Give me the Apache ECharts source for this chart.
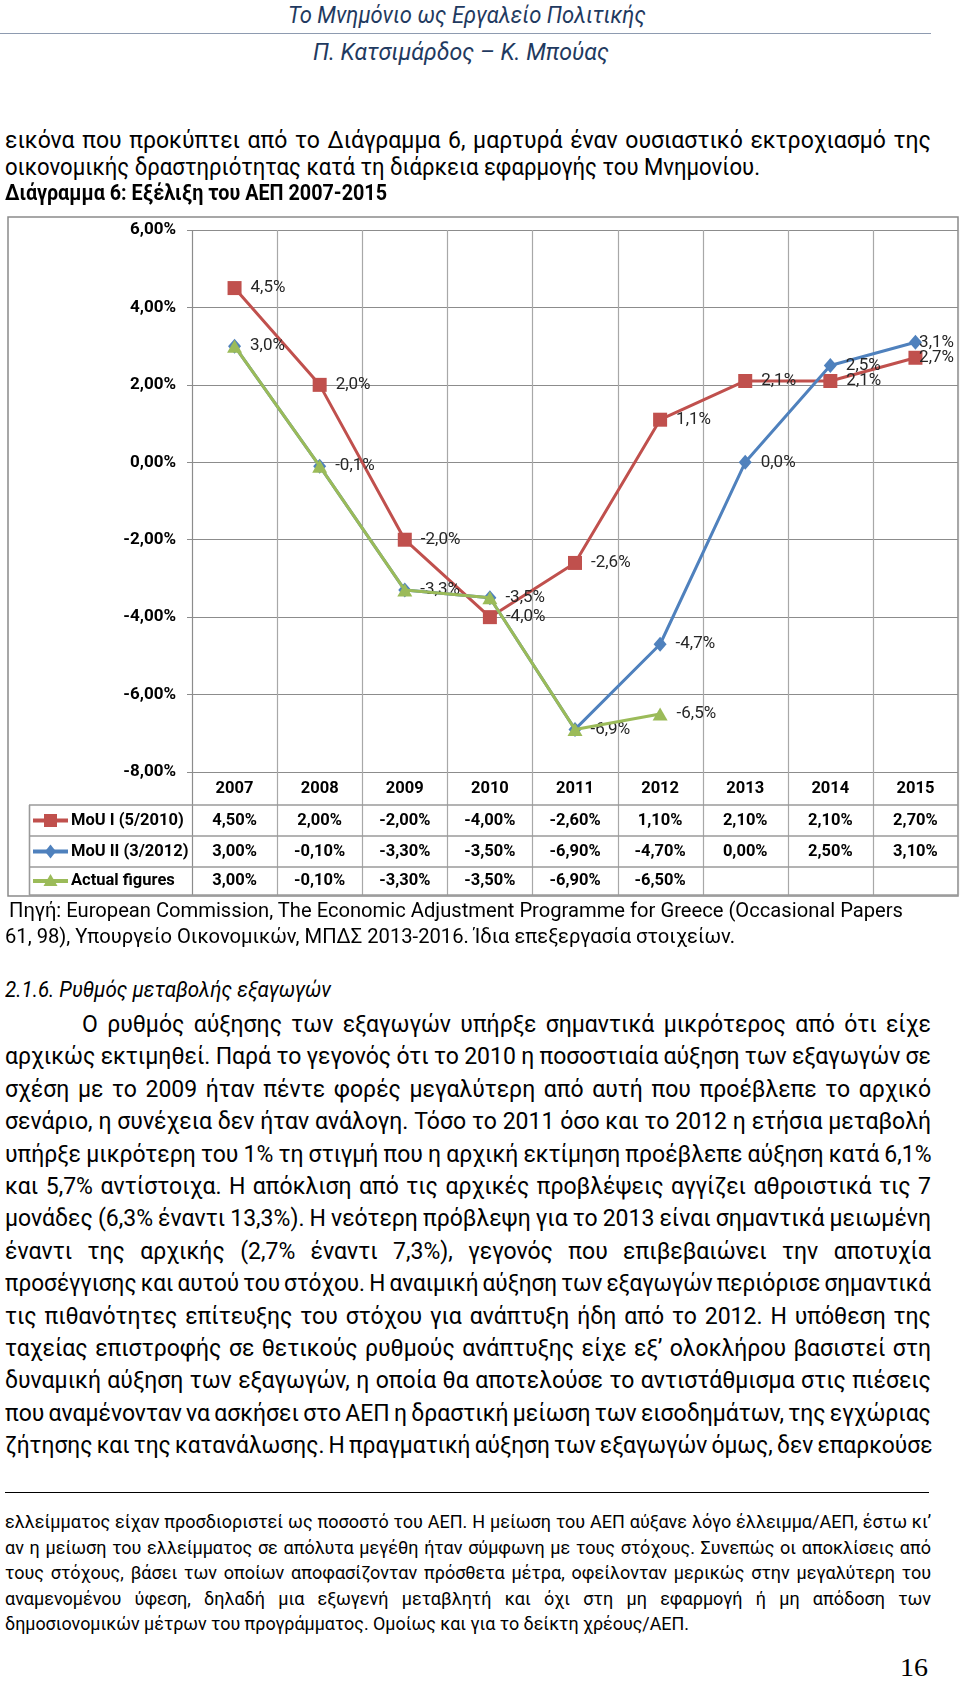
<!DOCTYPE html>
<html>
<head>
<meta charset="utf-8">
<script src="https://cdn.jsdelivr.net/npm/echarts@6/dist/echarts.min.js"></script>
<style>
  html,body{margin:0;padding:0;background:#fff;}
  body{width:960px;height:1706px;position:relative;overflow:hidden;font-family:Roboto,"Noto Sans",sans-serif;color:#000;}
  .ln{position:absolute;white-space:nowrap;transform-origin:0 50%;}
  .hdr{font-style:italic;color:#1f3a60;font-size:24px;}
  .body{font-size:23px;}
  .ttl{font-size:22px;font-weight:bold;}
  .head{font-size:22px;font-style:italic;}
  .src{font-size:20px;}
  .fn{font-size:18px;}
  .pg{font-family:"Liberation Serif","DejaVu Serif",serif;font-size:26px;}
  .rule{position:absolute;}
  #chart{position:absolute;left:0;top:200px;width:960px;height:710px;}
</style>
</head>
<body>
<div class="rule" style="left:0;top:33px;width:931px;height:0;border-top:1.5px solid #8e9bb0;"></div>
<div class="rule" style="left:5px;top:1492px;width:924px;height:0;border-top:1.5px solid #000;"></div>
<div id="chart"></div>
<script>
// ---------- chart data ----------
const categories = ['2007','2008','2009','2010','2011','2012','2013','2014','2015'];
const mou1   = [4.5, 2.0, -2.0, -4.0, -2.6, 1.1, 2.1, 2.1, 2.7];
const mou2   = [3.0, -0.1, -3.3, -3.5, -6.9, -4.7, 0.0, 2.5, 3.1];
const actual = [3.0, -0.1, -3.3, -3.5, -6.9, -6.5, null, null, null];
const seriesNames = ['MoU I (5/2010)', 'MoU II (3/2012)', 'Actual figures'];
const yMin = -8, yMax = 6, yStep = 2;

// ---------- page text lines ----------
// [text, class, x0, x1, centerY, justified]
const textLines = [
  ['Το Μνημόνιο ως Εργαλείο Πολιτικής','hdr',288,646,15,false],
  ['Π. Κατσιμάρδος – Κ. Μπούας','hdr',313,609,52,false],
  ['εικόνα που προκύπτει από το Διάγραμμα 6, μαρτυρά έναν ουσιαστικό εκτροχιασμό της','body',5,931,141,true],
  ['οικονομικής δραστηριότητας κατά τη διάρκεια εφαρμογής του Μνημονίου.','body',5,760,168,false],
  ['Διάγραμμα 6: Εξέλιξη του ΑΕΠ 2007-2015','ttl',5,387,193,false],
  ['Πηγή: European Commission, The Economic Adjustment Programme for Greece (Occasional Papers','src',9,903,910,false],
  ['61, 98), Υπουργείο Οικονομικών, ΜΠΔΣ 2013-2016. Ίδια επεξεργασία στοιχείων.','src',5,735,936,false],
  ['2.1.6. Ρυθμός μεταβολής εξαγωγών','head',5,331,990,false]
];
const bodyLines = [
  'Ο ρυθμός αύξησης των εξαγωγών υπήρξε σημαντικά μικρότερος από ότι είχε',
  'αρχικώς εκτιμηθεί. Παρά το γεγονός ότι το 2010 η ποσοστιαία αύξηση των εξαγωγών σε',
  'σχέση με το 2009 ήταν πέντε φορές μεγαλύτερη από αυτή που προέβλεπε το αρχικό',
  'σενάριο, η συνέχεια δεν ήταν ανάλογη. Τόσο το 2011 όσο και το 2012 η ετήσια μεταβολή',
  'υπήρξε μικρότερη του 1%  τη στιγμή που η αρχική εκτίμηση προέβλεπε αύξηση κατά 6,1%',
  'και 5,7% αντίστοιχα. Η απόκλιση από τις αρχικές προβλέψεις αγγίζει αθροιστικά τις 7',
  'μονάδες (6,3% έναντι 13,3%). Η νεότερη πρόβλεψη για το 2013 είναι σημαντικά μειωμένη',
  'έναντι της αρχικής (2,7% έναντι 7,3%), γεγονός που επιβεβαιώνει την αποτυχία',
  'προσέγγισης και αυτού του στόχου. Η αναιμική αύξηση των εξαγωγών περιόρισε σημαντικά',
  'τις πιθανότητες επίτευξης του στόχου για ανάπτυξη ήδη από το 2012. Η υπόθεση της',
  'ταχείας επιστροφής σε θετικούς ρυθμούς ανάπτυξης είχε εξ’ ολοκλήρου βασιστεί στη',
  'δυναμική αύξηση των εξαγωγών, η οποία θα αποτελούσε το αντιστάθμισμα στις πιέσεις',
  'που αναμένονταν να ασκήσει στο ΑΕΠ η δραστική μείωση των εισοδημάτων, της εγχώριας',
  'ζήτησης και της κατανάλωσης. Η πραγματική αύξηση των εξαγωγών όμως, δεν  επαρκούσε'
];
bodyLines.forEach((t,i)=>textLines.push([t,'body', i===0?82:5, 931, 1025 + i*32.4, true]));
const footLines = [
  ['ελλείμματος είχαν προσδιοριστεί ως ποσοστό του ΑΕΠ. Η μείωση του ΑΕΠ αύξανε λόγο έλλειμμα/ΑΕΠ, έστω κι’',931,true],
  ['αν η μείωση του ελλείμματος σε απόλυτα μεγέθη ήταν σύμφωνη με τους στόχους. Συνεπώς οι αποκλίσεις από',931,true],
  ['τους στόχους, βάσει των οποίων αποφασίζονταν πρόσθετα μέτρα, οφείλονταν μερικώς στην μεγαλύτερη του',931,true],
  ['αναμενομένου ύφεση, δηλαδή μια εξωγενή μεταβλητή και όχι στη μη εφαρμογή ή μη απόδοση των',931,true],
  ['δημοσιονομικών μέτρων του προγράμματος. Ομοίως και για το δείκτη χρέους/ΑΕΠ.',689,false]
];
footLines.forEach((f,i)=>textLines.push([f[0],'fn',5,f[1],1522 + i*25.5,f[2]]));
textLines.push(['16','pg',900,928,1668,false]);

const lineEls = textLines.map(([t,cls,x0,x1,cy,just])=>{
  const d = document.createElement('div');
  d.className = 'ln ' + cls;
  d.textContent = t;
  d.style.left = x0 + 'px';
  d.style.height = '30px';
  d.style.lineHeight = '30px';
  d.style.top = (cy - 15) + 'px';
  document.body.appendChild(d);
  return {d,t,x0,x1,just};
});
function fitLines(){
  lineEls.forEach(({d,t,x0,x1,just})=>{
    d.style.wordSpacing = '0px';
    d.style.transform = 'none';
    const w = d.getBoundingClientRect().width;
    const target = x1 - x0;
    const spaces = (t.match(/ /g)||[]).length;
    let s = 1, ws = 0;
    if (just && spaces) {
      ws = (target - w) / spaces;
      if (ws < -1.5) { ws = -1.5; s = target / (w + ws * spaces); }
    } else {
      s = target / w;
    }
    d.style.wordSpacing = ws + 'px';
    d.style.transform = 'scaleX(' + s + ')';
  });
}
fitLines();
if (document.fonts && document.fonts.ready) document.fonts.ready.then(fitLines);

// ---------- chart ----------
const colors = ['#C0504D', '#4F81BD', '#9BBB59'];
const fmtAxis  = v => v.toFixed(2).replace('.', ',') + '%';
const fmtLabel = v => v.toFixed(1).replace('.', ',') + '%';
const fmtTable = v => (v === null || v === undefined) ? '' : v.toFixed(2).replace('.', ',') + '%';
const seriesData = [mou1, mou2, actual];

const GL = 192, GT = 30, GW = 766, GH = 542;
const tableRows = [605, 636, 667, 695];   // row borders (chart coords)
const chartBox = {x: 8, y: 17, w: 950, h: 679};
const cellW = GW / categories.length;

const gridColor = '#8c8c8c';
const vColor = '#a8a8a8';
const tableColor = '#9a9a9a';

const graphics = [];
graphics.push({type:'rect', z:0, silent:true,
  shape:{x:chartBox.x, y:chartBox.y, width:chartBox.w, height:chartBox.h},
  style:{fill:'none', stroke:'#8a8a8a', lineWidth:1.5}});
for (let i = 0; i <= categories.length; i++) {
  const x = Math.round(GL + i * cellW) + 0.5;
  graphics.push({type:'line', z:1, silent:true,
    shape:{x1:x, y1:GT, x2:x, y2:tableRows[3]},
    style:{stroke: i === 0 ? gridColor : vColor, lineWidth:1.2}});
}
tableRows.forEach(y => graphics.push({type:'line', z:1, silent:true,
  shape:{x1:29, y1:y, x2:GL + GW, y2:y}, style:{stroke:tableColor, lineWidth:1.6}}));
graphics.push({type:'line', z:1, silent:true,
  shape:{x1:29.5, y1:tableRows[0], x2:29.5, y2:tableRows[3]}, style:{stroke:tableColor, lineWidth:1.6}});

// legend keys inside the data table
seriesNames.forEach((name, i) => {
  const cy = (tableRows[i] + tableRows[i + 1]) / 2;
  const c = colors[i];
  graphics.push({type:'line', z:5, silent:true, shape:{x1:33, y1:cy, x2:68, y2:cy}, style:{stroke:c, lineWidth:4}});
  const mx = 50.5;
  if (i === 0) graphics.push({type:'rect', z:6, silent:true, shape:{x:mx-6.5, y:cy-6.5, width:13, height:13}, style:{fill:c}});
  if (i === 1) graphics.push({type:'polygon', z:6, silent:true, shape:{points:[[mx,cy-7],[mx+5.5,cy],[mx,cy+7],[mx-5.5,cy]]}, style:{fill:c}});
  if (i === 2) graphics.push({type:'polygon', z:6, silent:true, shape:{points:[[mx,cy-7],[mx+7,cy+5],[mx-7,cy+5]]}, style:{fill:c}});
  graphics.push({type:'text', z:6, silent:true,
    style:{text:name, x:71, y:cy, fill:'#000', font:'bold 16.5px Roboto',
      align:'left', verticalAlign:'middle', textAlign:'left', textVerticalAlign:'middle'}});
});

function tableAxis(arr, margin) {
  return {
    type:'category', gridIndex:0, data:categories, position:'bottom', boundaryGap:true,
    axisLine:{show:false}, axisTick:{show:false}, splitLine:{show:false},
    axisLabel:{interval:0, margin:margin, verticalAlign:'middle', color:'#000', fontWeight:'bold', fontSize:16.5,
      formatter:(v, idx) => arr ? fmtTable(arr[idx]) : v}
  };
}

// a point that coincides with the same point of the series drawn before it gets no second label
function labelText(si, idx) {
  const v = seriesData[si][idx];
  if (v === null || v === undefined) return '';
  if (si > 0 && seriesData[si - 1][idx] === v) return '';
  return fmtLabel(v);
}

const labelLimit = chartBox.x + chartBox.w - 4;
const option = {
  animation:false,
  textStyle:{fontFamily:'Roboto'},
  grid:{left:GL, top:GT, width:GW, height:GH, containLabel:false},
  graphic:{elements:graphics},
  xAxis:[
    tableAxis(null, 17),
    tableAxis(mou1, 48.5),
    tableAxis(mou2, 79.5),
    tableAxis(actual, 109)
  ],
  yAxis:{
    type:'value', min:yMin, max:yMax, interval:yStep,
    axisLine:{show:false},
    axisTick:{show:true, length:5, lineStyle:{color:gridColor}},
    splitLine:{show:true, lineStyle:{color:gridColor, width:1.2}},
    axisLabel:{formatter:fmtAxis, margin:16, color:'#000', fontWeight:'bold', fontSize:17}
  },
  series: seriesData.map((arr, i) => ({
    name: seriesNames[i],
    type:'line',
    data: arr,
    z: 2 + i,
    symbol: ['rect','diamond','triangle'][i],
    symbolSize: [[14,14],[13,15],[15,13]][i],
    showAllSymbol:true,
    lineStyle:{width:3, color:colors[i]},
    itemStyle:{color:colors[i]},
    emphasis:{disabled:true},
    label:{show:true, position:'right', distance:9, color:'#262626', fontSize:17,
      formatter: p => labelText(i, p.dataIndex)},
    labelLayout: p => {
      const r = p.labelRect;
      if (r.x + r.width > labelLimit) {
        return {x: labelLimit - r.width, y: r.y + r.height / 2, align:'left', verticalAlign:'middle'};
      }
      return {};
    }
  }))
};
const chart = echarts.init(document.getElementById('chart'), null, {renderer:'canvas'});
chart.setOption(option);
</script>
</body>
</html>
